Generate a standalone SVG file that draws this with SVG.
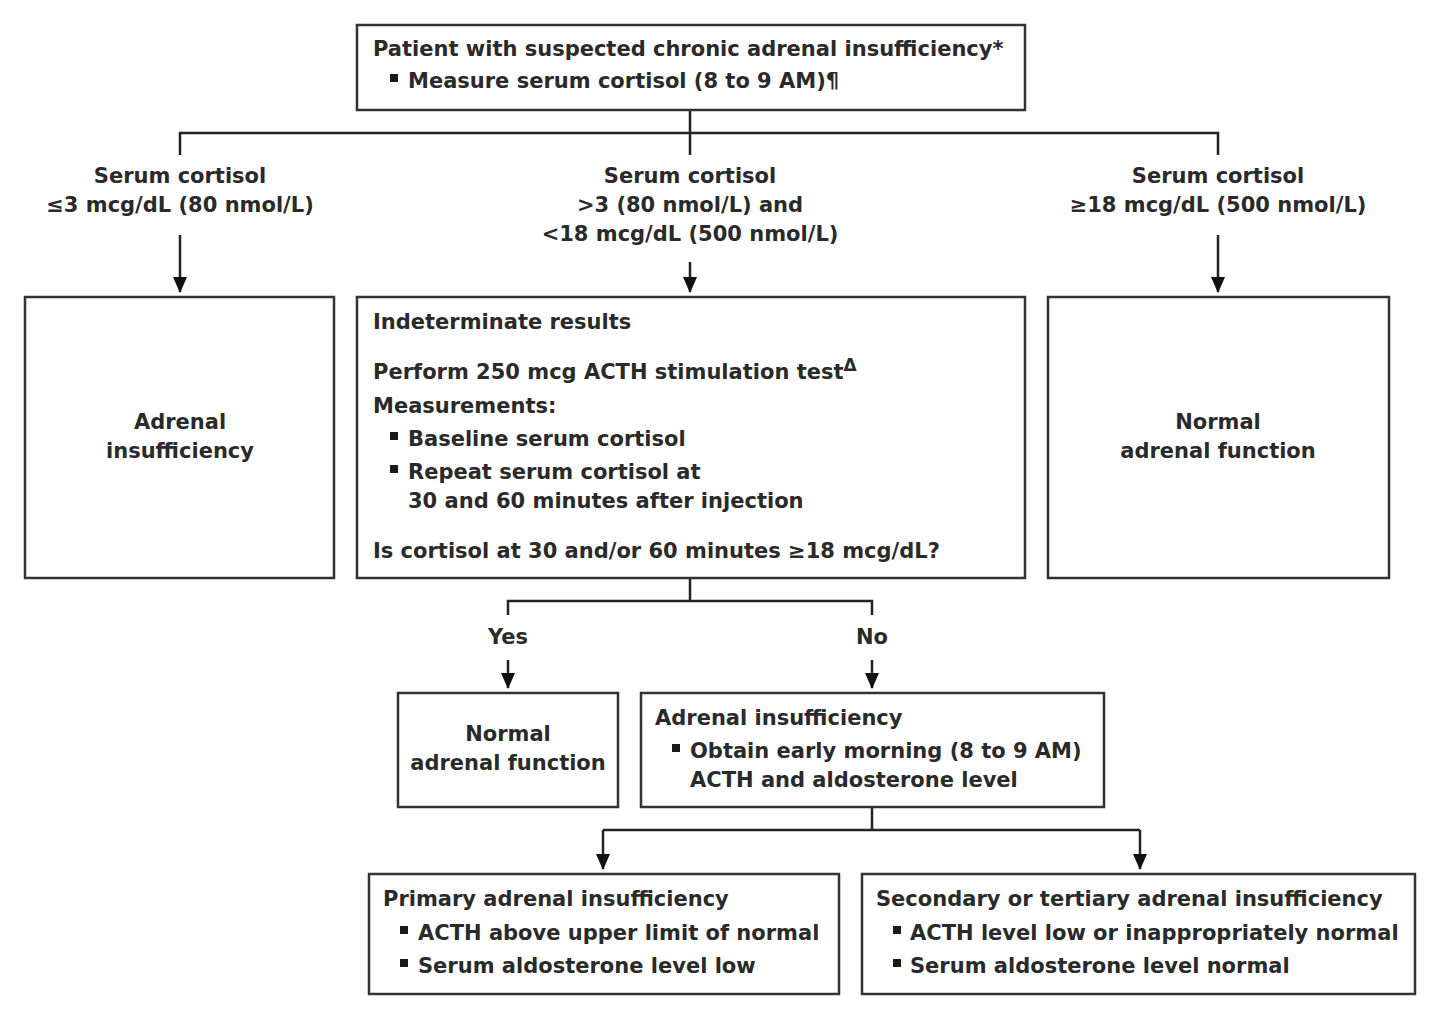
<svg xmlns="http://www.w3.org/2000/svg" width="1440" height="1019" viewBox="0 0 1440 1019">
<style>
text{font-family:"DejaVu Sans","Liberation Sans",sans-serif;font-size:21px;font-weight:bold;fill:#2a2a2a}
.c{text-anchor:middle}
.box{fill:#fff;stroke:#333;stroke-width:2.5}
.ln{fill:none;stroke:#222;stroke-width:2.5}
.b{fill:#1a1a1a}
</style>
<defs>
<marker id="a" markerWidth="18" markerHeight="18" refX="15" refY="7" orient="auto" markerUnits="userSpaceOnUse"><path d="M0,0L16,7L0,14z" fill="#111"/></marker></defs>
<rect width="1440" height="1019" fill="#fff"/>
<g id="connectors">
<path class="ln" d="M690,110V133M180,155V133H1218V155M690,133V155"/>
<path class="ln" d="M180,235V292" marker-end="url(#a)"/>
<path class="ln" d="M690,262V292" marker-end="url(#a)"/>
<path class="ln" d="M1218,235V292" marker-end="url(#a)"/>
<path class="ln" d="M690,578V601M508,615V601H872V615"/>
<path class="ln" d="M508,660V688" marker-end="url(#a)"/>
<path class="ln" d="M872,660V688" marker-end="url(#a)"/>
<path class="ln" d="M872,807V830M603,830H1140"/>
<path class="ln" d="M603,830V869" marker-end="url(#a)"/>
<path class="ln" d="M1140,830V869" marker-end="url(#a)"/>
<text class="c" x="180" y="183">Serum cortisol</text>
<text class="c" x="180" y="212">≤3 mcg/dL (80 nmol/L)</text>
<text class="c" x="690" y="183">Serum cortisol</text>
<text class="c" x="690" y="212">&gt;3 (80 nmol/L) and</text>
<text class="c" x="690" y="241">&lt;18 mcg/dL (500 nmol/L)</text>
<text class="c" x="1218" y="183">Serum cortisol</text>
<text class="c" x="1218" y="212">≥18 mcg/dL (500 nmol/L)</text>
<text class="c" x="508" y="644">Yes</text>
<text class="c" x="872" y="644">No</text>
</g>
<g id="start">
<rect class="box" x="357" y="25" width="668" height="85"/>
<text x="373" y="56">Patient with suspected chronic adrenal insufficiency*</text>
<rect class="b" x="390" y="74" width="8" height="8"/>
<text x="408" y="88">Measure serum cortisol (8 to 9 AM)¶</text>
</g>
<g id="left">
<rect class="box" x="25" y="297" width="309" height="281"/>
<text class="c" x="180" y="429">Adrenal</text>
<text class="c" x="180" y="458">insufficiency</text>
</g>
<g id="middle">
<rect class="box" x="357" y="297" width="668" height="281"/>
<text x="373" y="329">Indeterminate results</text>
<text x="373" y="379">Perform 250 mcg ACTH stimulation test<tspan dy="-8" font-size="17">Δ</tspan></text>
<text x="373" y="413">Measurements:</text>
<rect class="b" x="390" y="432" width="8" height="8"/>
<text x="408" y="446">Baseline serum cortisol</text>
<rect class="b" x="390" y="465" width="8" height="8"/>
<text x="408" y="479">Repeat serum cortisol at</text>
<text x="408" y="508">30 and 60 minutes after injection</text>
<text x="373" y="558">Is cortisol at 30 and/or 60 minutes ≥18 mcg/dL?</text>
</g>
<g id="right">
<rect class="box" x="1048" y="297" width="341" height="281"/>
<text class="c" x="1218" y="429">Normal</text>
<text class="c" x="1218" y="458">adrenal function</text>
</g>
<g id="normal2">
<rect class="box" x="398" y="693" width="220" height="114"/>
<text class="c" x="508" y="741">Normal</text>
<text class="c" x="508" y="770">adrenal function</text>
</g>
<g id="ai">
<rect class="box" x="641" y="693" width="463" height="114"/>
<text x="655" y="725">Adrenal insufficiency</text>
<rect class="b" x="672" y="744" width="8" height="8"/>
<text x="690" y="758">Obtain early morning (8 to 9 AM)</text>
<text x="690" y="787">ACTH and aldosterone level</text>
</g>
<g id="primary">
<rect class="box" x="369" y="874" width="470" height="120"/>
<text x="383" y="906">Primary adrenal insufficiency</text>
<rect class="b" x="400" y="926" width="8" height="8"/>
<text x="418" y="940">ACTH above upper limit of normal</text>
<rect class="b" x="400" y="959" width="8" height="8"/>
<text x="418" y="973">Serum aldosterone level low</text>
</g>
<g id="secondary">
<rect class="box" x="862" y="874" width="553" height="120"/>
<text x="876" y="906">Secondary or tertiary adrenal insufficiency</text>
<rect class="b" x="893" y="926" width="8" height="8"/>
<text x="910" y="940">ACTH level low or inappropriately normal</text>
<rect class="b" x="893" y="959" width="8" height="8"/>
<text x="910" y="973">Serum aldosterone level normal</text>
</g>
</svg>
